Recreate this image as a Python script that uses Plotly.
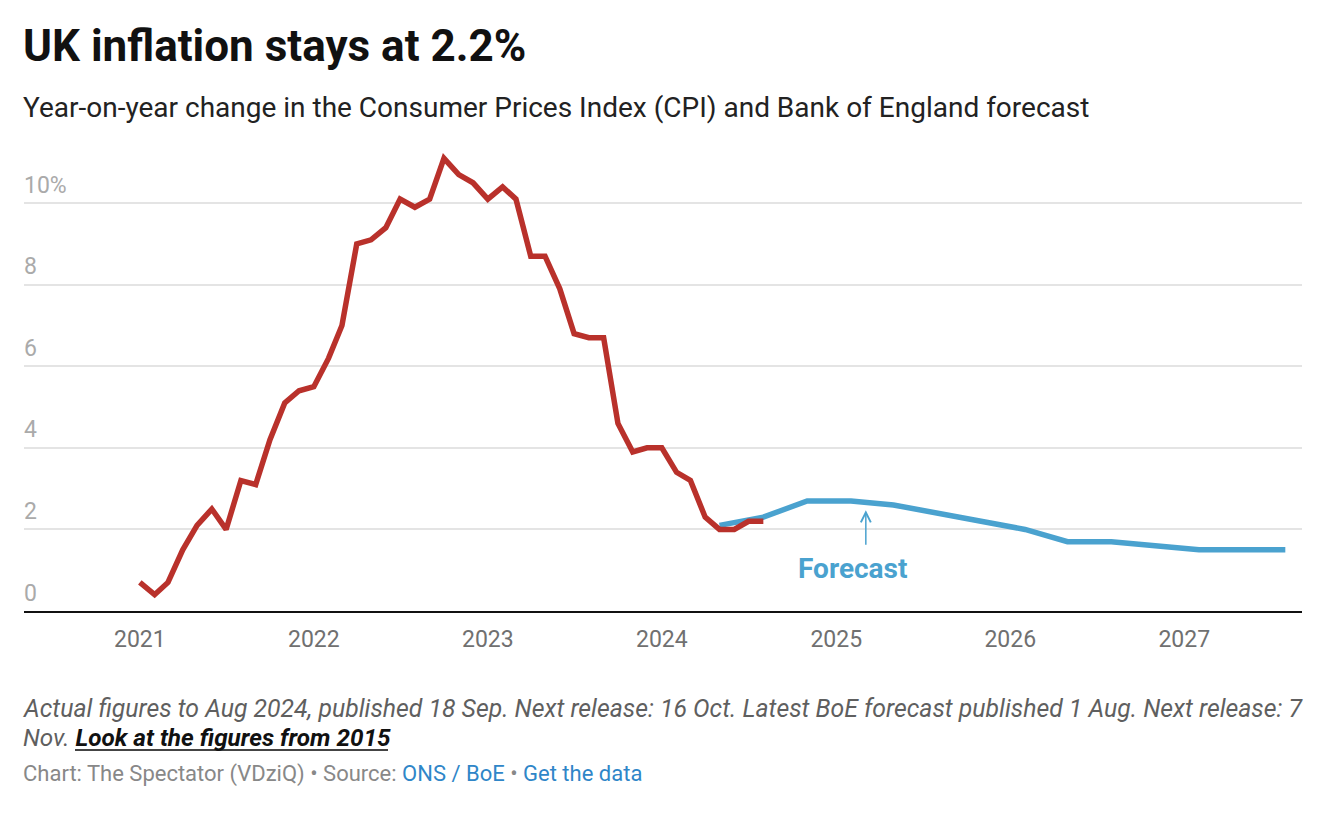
import pandas as pd
import plotly.graph_objects as go

# ---- data ----
cpi_months = pd.date_range("2021-01-01", "2024-08-01", freq="MS")
cpi_values = [
    0.7, 0.4, 0.7, 1.5, 2.1, 2.5, 2.0, 3.2, 3.1, 4.2, 5.1, 5.4,
    5.5, 6.2, 7.0, 9.0, 9.1, 9.4, 10.1, 9.9, 10.1, 11.1, 10.7, 10.5,
    10.1, 10.4, 10.1, 8.7, 8.7, 7.9, 6.8, 6.7, 6.7, 4.6, 3.9, 4.0,
    4.0, 3.4, 3.2, 2.3, 2.0, 2.0, 2.2, 2.2,
]
forecast_dates = [
    "2024-05-01", "2024-08-01", "2024-11-01", "2025-02-01", "2025-05-01",
    "2025-08-01", "2025-11-01", "2026-02-01", "2026-05-01", "2026-08-01",
    "2026-11-01", "2027-02-01", "2027-05-01", "2027-08-01",
]
forecast_values = [2.1, 2.3, 2.7, 2.7, 2.6, 2.4, 2.2, 2.0, 1.7, 1.7, 1.6, 1.5, 1.5, 1.5]
year_ticks = ["2021-01-01", "2022-01-01", "2023-01-01", "2024-01-01",
              "2025-01-01", "2026-01-01", "2027-01-01"]
year_labels = ["2021", "2022", "2023", "2024", "2025", "2026", "2027"]
y_ticks = [0, 2, 4, 6, 8, 10]
y_labels = ["0", "2", "4", "6", "8", "10%"]

RED = "#b9312b"
BLUE = "#4aa2cf"
FONT = "Roboto"

# ---- layout geometry (pixels) ----
W, H = 1334, 830
L, R, T, B = 24, 32, 142, 219
PW, PH = W - L - R, H - T - B


def px(x):
    return (x - L) / PW


def py(y):
    return (H - B - y) / PH


fig = go.Figure()
fig.add_trace(go.Scatter(
    x=forecast_dates, y=forecast_values, mode="lines",
    line=dict(color=BLUE, width=5.5), hoverinfo="skip", showlegend=False))
fig.add_trace(go.Scatter(
    x=cpi_months, y=cpi_values, mode="lines",
    line=dict(color=RED, width=5.5), hoverinfo="skip", showlegend=False))

ann = []
# y labels above gridlines
for v, t in zip(y_ticks, y_labels):
    ann.append(dict(x=px(22), xref="paper", y=v, yref="y", text=t, showarrow=False,
                    xanchor="left", yanchor="middle", yshift=18,
                    font=dict(family=FONT, size=23, color="#aaaaaa")))

# Forecast label and arrow
ann.append(dict(x="2025-02-05", y=1.05, xref="x", yref="y", text="<b>Forecast</b>",
                showarrow=False, xanchor="center", yanchor="middle",
                font=dict(family=FONT, size=28, color=BLUE)))
ann.append(dict(x="2025-03-04", y=2.47, xref="x", yref="y", text="", showarrow=True,
                ax=0, ay=36, axref="pixel", ayref="pixel", arrowhead=5, arrowsize=1.3,
                arrowwidth=1.5, arrowcolor=BLUE, standoff=0))

# Title / subtitle
ann.append(dict(x=px(21), y=py(46), xref="paper", yref="paper", text="<b>UK inflation stays at 2.2%</b>",
                showarrow=False, xanchor="left", yanchor="middle",
                font=dict(family=FONT, size=44, color="#111111")))
ann.append(dict(x=px(21), y=py(108), xref="paper", yref="paper",
                text="Year-on-year change in the Consumer Prices Index (CPI) and Bank of England forecast",
                showarrow=False, xanchor="left", yanchor="middle",
                font=dict(family=FONT, size=28, color="#222222")))

# Footer
ann.append(dict(x=px(21), y=py(708), xref="paper", yref="paper",
                text="<i>Actual figures to Aug 2024, published 18 Sep. Next release: 16 Oct. Latest BoE forecast published 1 Aug. Next release: 7</i>",
                showarrow=False, xanchor="left", yanchor="middle",
                font=dict(family=FONT, size=24.8, color="#5f5f5f")))
ann.append(dict(x=px(21), y=py(737), xref="paper", yref="paper",
                text="<i>Nov. </i><i><b><span style='color:#111111'>Look at the figures from 2015</span></b></i>",
                showarrow=False, xanchor="left", yanchor="middle",
                font=dict(family=FONT, size=24.3, color="#5f5f5f")))
ann.append(dict(x=px(21), y=py(774), xref="paper", yref="paper",
                text="Chart: The Spectator (VDziQ) • Source: <span style='color:#2f86c8'>ONS / BoE</span> • <span style='color:#2f86c8'>Get the data</span>",
                showarrow=False, xanchor="left", yanchor="middle",
                font=dict(family=FONT, size=22, color="#888888")))

shapes = [dict(type="line", xref="paper", yref="paper", x0=px(75), x1=px(388),
               y0=py(750), y1=py(750), line=dict(color="#444444", width=2))]

fig.update_layout(
    width=W, height=H, margin=dict(l=L, r=R, t=T, b=B),
    paper_bgcolor="white", plot_bgcolor="white",
    font=dict(family=FONT),
    annotations=ann, shapes=shapes,
    xaxis=dict(type="date", range=["2020-05-03", "2027-09-05"],
               tickvals=year_ticks, ticktext=year_labels,
               tickfont=dict(family=FONT, size=23, color="#707070"),
               showgrid=False, showline=True, linecolor="#111111", linewidth=2,
               ticks="", ticklabelstandoff=6, zeroline=False, fixedrange=True),
    yaxis=dict(range=[0, 11.5], tickvals=y_ticks[1:], showticklabels=False,
               showgrid=True, gridcolor="#e4e4e4", gridwidth=1.5,
               zeroline=False, showline=False, fixedrange=True),
)

fig.write_html("out.html", config={"displayModeBar": False},
               post_script="document.body.style.margin='0';document.body.style.overflow='hidden';")
